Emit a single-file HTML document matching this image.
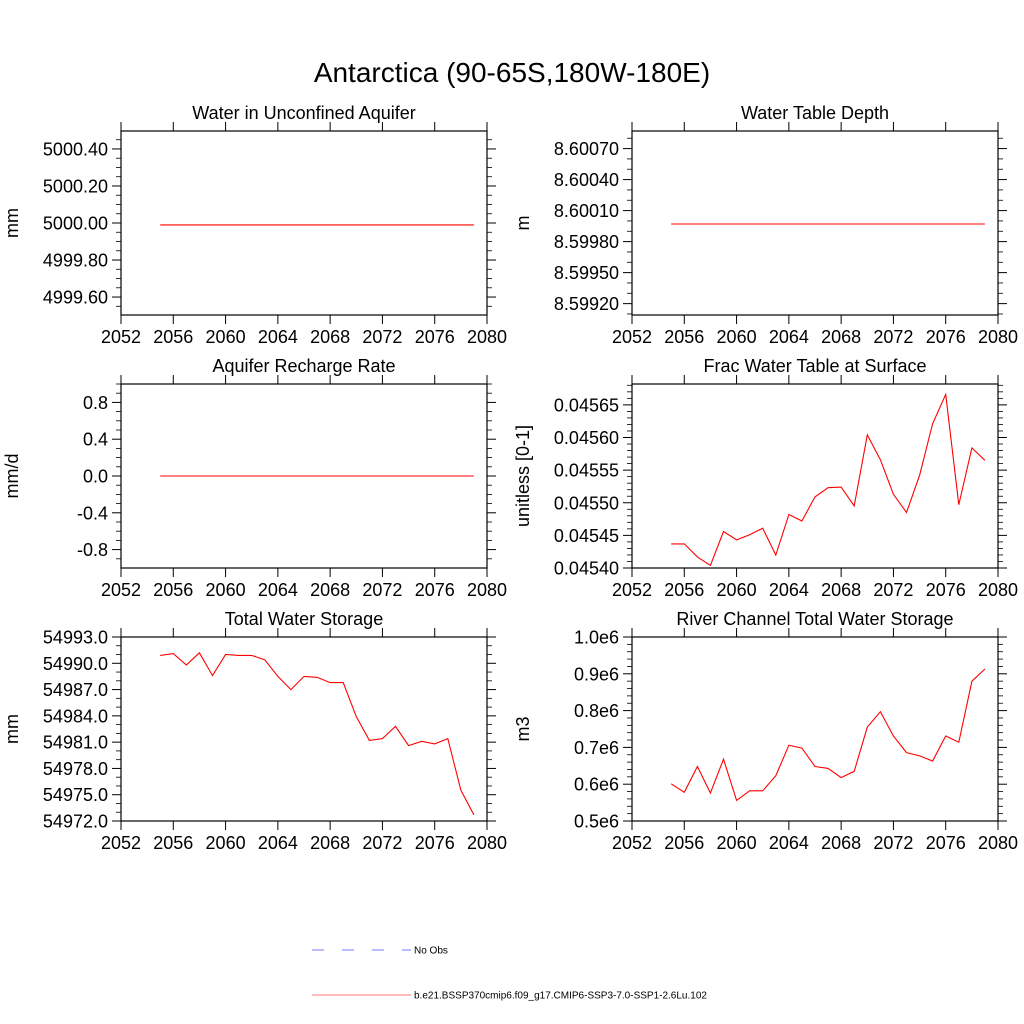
<!DOCTYPE html>
<html><head><meta charset="utf-8"><style>
body{margin:0;background:#fff;}
svg{display:block;font-family:"Liberation Sans",Arial,sans-serif;}
</style></head><body>
<svg id="chart" width="1024" height="1024" viewBox="0 0 1024 1024" xmlns="http://www.w3.org/2000/svg">
<rect x="0" y="0" width="1024" height="1024" fill="#fff"/>
<text x="512" y="82" text-anchor="middle" font-size="28">Antarctica (90-65S,180W-180E)</text>
<g id="panels"></g>
<g>
<line x1="312" y1="950" x2="411" y2="950" stroke="#7777ff" stroke-width="1" stroke-dasharray="12,18"/>
<text x="414" y="953.5" font-size="10">No Obs</text>
<line x1="312" y1="995" x2="411" y2="995" stroke="#ff7777" stroke-width="1"/>
<text x="414" y="998.5" font-size="10">b.e21.BSSP370cmip6.f09_g17.CMIP6-SSP3-7.0-SSP1-2.6Lu.102</text>
</g>
</svg>
<script>
const years = [2055,2056,2057,2058,2059,2060,2061,2062,2063,2064,2065,2066,2067,2068,2069,2070,2071,2072,2073,2074,2075,2076,2077,2078,2079];
const xTicks = [2052,2056,2060,2064,2068,2072,2076,2080];
const aquiferValues = [4999.99,4999.99,4999.99,4999.99,4999.99,4999.99,4999.99,4999.99,4999.99,4999.99,4999.99,4999.99,4999.99,4999.99,4999.99,4999.99,4999.99,4999.99,4999.99,4999.99,4999.99,4999.99,4999.99,4999.99,4999.99];
const aquiferTicks = ["4999.60","4999.80","5000.00","5000.20","5000.40"];
const wtdValues = [8.59997,8.59997,8.59997,8.59997,8.59997,8.59997,8.59997,8.59997,8.59997,8.59997,8.59997,8.59997,8.59997,8.59997,8.59997,8.59997,8.59997,8.59997,8.59997,8.59997,8.59997,8.59997,8.59997,8.59997,8.59997];
const wtdTicks = ["8.59920","8.59950","8.59980","8.60010","8.60040","8.60070"];
const rechargeValues = [0,0,0,0,0,0,0,0,0,0,0,0,0,0,0,0,0,0,0,0,0,0,0,0,0];
const rechargeTicks = ["-0.8","-0.4","0.0","0.4","0.8"];
const fracValues = [0.045437,0.045437,0.045417,0.045404,0.045456,0.045443,0.045451,0.045461,0.045420,0.045482,0.045472,0.045509,0.045523,0.045524,0.045495,0.045604,0.045566,0.045513,0.045485,0.045542,0.045621,0.045666,0.045497,0.045584,0.045565];
const fracTicks = ["0.04540","0.04545","0.04550","0.04555","0.04560","0.04565"];
const twsValues = [54990.9,54991.1,54989.8,54991.2,54988.6,54991.0,54990.9,54990.9,54990.4,54988.5,54987.0,54988.5,54988.4,54987.8,54987.8,54983.9,54981.2,54981.4,54982.8,54980.6,54981.1,54980.8,54981.4,54975.5,54972.7];
const twsTicks = ["54972.0","54975.0","54978.0","54981.0","54984.0","54987.0","54990.0","54993.0"];
const riverValues = [0.601,0.578,0.648,0.576,0.668,0.556,0.582,0.582,0.623,0.706,0.698,0.648,0.643,0.618,0.635,0.755,0.797,0.731,0.686,0.677,0.663,0.731,0.714,0.880,0.913];
const riverTicks = ["0.5e6","0.6e6","0.7e6","0.8e6","0.9e6","1.0e6"];

const NS="http://www.w3.org/2000/svg";
const root=document.getElementById('panels');
function mk(tag,attrs,parent){const e=document.createElementNS(NS,tag);for(const k in attrs)e.setAttribute(k,attrs[k]);parent.appendChild(e);return e;}

const panels=[
 {id:'aquifer',title:'Water in Unconfined Aquifer',ylab:'mm',x0:121,y0:131,vals:aquiferValues,ticks:aquiferTicks,ymin:4999.503,ymax:5000.497,tv:[4999.6,4999.8,5000.0,5000.2,5000.4],minor:4,dx:1},
 {id:'wtd',title:'Water Table Depth',ylab:'m',x0:632,y0:131,vals:wtdValues,ticks:wtdTicks,ymin:8.59909,ymax:8.60087,tv:[8.5992,8.5995,8.5998,8.6001,8.6004,8.6007],minor:3,dx:1},
 {id:'recharge',title:'Aquifer Recharge Rate',ylab:'mm/d',x0:121,y0:384,vals:rechargeValues,ticks:rechargeTicks,ymin:-1,ymax:1,tv:[-0.8,-0.4,0,0.4,0.8],minor:4,dx:1},
 {id:'frac',title:'Frac Water Table at Surface',ylab:'unitless [0-1]',x0:632,y0:384,vals:fracValues,ticks:fracTicks,ymin:0.0454,ymax:0.045682,tv:[0.0454,0.04545,0.0455,0.04555,0.0456,0.04565],minor:5,dx:1},
 {id:'tws',title:'Total Water Storage',ylab:'mm',x0:121,y0:637,vals:twsValues,ticks:twsTicks,ymin:54972,ymax:54993,tv:[54972,54975,54978,54981,54984,54987,54990,54993],minor:3,dx:1},
 {id:'river',title:'River Channel Total Water Storage',ylab:'m3',x0:632,y0:637,vals:riverValues,ticks:riverTicks,ymin:0.5,ymax:1.0,tv:[0.5,0.6,0.7,0.8,0.9,1.0],minor:5,dx:1}
];
const W=366,H=184;
panels.forEach(p=>{
 const g=mk('g',{},root);
 
 
 const xs=v=>p.x0+(v-2052)/(2080-2052)*W;
 const ys=v=>p.y0+H-(v-p.ymin)/(p.ymax-p.ymin)*H;
 const t=mk('text',{x:p.x0+W/2,y:p.y0-12,'text-anchor':'middle','font-size':18},g);
 
 
 t.textContent=p.title;
 const fr=mk('rect',{x:p.x0,y:p.y0,width:W,height:H,fill:'none',stroke:'#000','stroke-width':1.2},g);
 
 
 xTicks.forEach(v=>{
  const x=xs(v);
  mk('line',{x1:x,y1:p.y0+H,x2:x,y2:p.y0+H+9,stroke:'#000','stroke-width':1},g);
  mk('line',{x1:x,y1:p.y0,x2:x,y2:p.y0-9,stroke:'#000','stroke-width':1},g);
  const l=mk('text',{x:x,y:p.y0+H+28,'text-anchor':'middle','font-size':18},g);
  
  
  l.textContent=v;
 });
 const step=p.tv[1]-p.tv[0];
 for(let i=-1;i<p.tv.length;i++){
  for(let k=1;k<p.minor;k++){
   const v=p.tv[0]+i*step+k*step/p.minor;
   if(v<p.ymin||v>p.ymax)continue;
   const y=ys(v);
   mk('line',{x1:p.x0,y1:y,x2:p.x0-5,y2:y,stroke:'#000','stroke-width':0.8},g);
   mk('line',{x1:p.x0+W,y1:y,x2:p.x0+W+5,y2:y,stroke:'#000','stroke-width':0.8},g);
  }
 }
 p.tv.forEach((v,i)=>{
  const y=ys(v);
  mk('line',{x1:p.x0,y1:y,x2:p.x0-9,y2:y,stroke:'#000','stroke-width':1},g);
  mk('line',{x1:p.x0+W,y1:y,x2:p.x0+W+9,y2:y,stroke:'#000','stroke-width':1},g);
  const l=mk('text',{x:p.x0-13,y:y+6.5,'text-anchor':'end','font-size':18},g);
  
  
  l.textContent=p.ticks[i];
 });
 const yl=mk('text',{x:0,y:0,'text-anchor':'middle','font-size':18,transform:`translate(${p.x0-103},${p.y0+H/2}) rotate(-90)`},g);
 
 
 yl.textContent=p.ylab;
 const pts=years.map((yr,i)=>xs(yr).toFixed(1)+','+ys(p.vals[i]).toFixed(1)).join(' ');
 const pl=mk('polyline',{points:pts,fill:'none',stroke:'#ff0000','stroke-width':1.1},g);
 
 
});
</script>
</body></html>
